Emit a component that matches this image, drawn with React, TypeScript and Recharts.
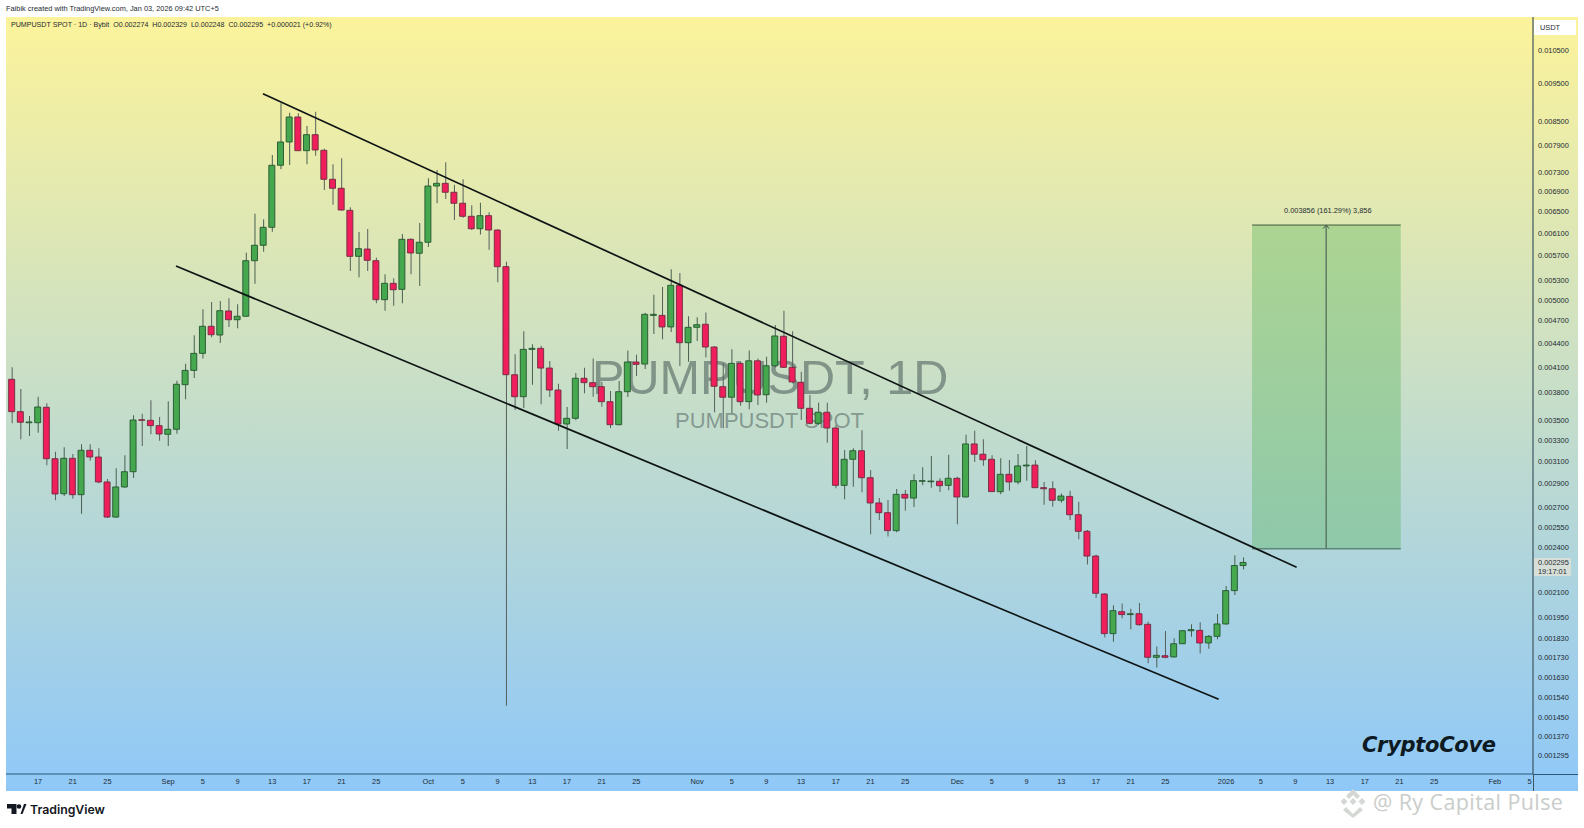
import { Bar, Cell, ComposedChart, ReferenceArea, ReferenceLine, XAxis, YAxis } from "recharts"

// candle values in millionths of USDT, one per day from Aug 14 2025 to Jan 03 2026
const opens = [
    3952, 3590, 3474, 3474, 3637, 3122, 2814, 3126, 2806, 3201,
    3138, 2914, 2626, 2871, 3004, 3505, 3499, 3444, 3357, 3407,
    3889, 4058, 4268, 4625, 4507, 4840, 4716, 4765, 5619, 5882,
    6204, 7458, 7992, 8607, 7788, 8167, 7797, 7154, 6966, 6525,
    5692, 5817, 5619, 5005, 5254, 5161, 5987, 5744, 5935, 7013,
    7069, 6884, 6663, 6410, 6178, 6422, 6154, 5520, 4006, 3753,
    4319, 4332, 4086, 3828, 3461, 3520, 3964, 3913, 3866, 3698,
    3454, 3809, 4160, 4135, 4777, 4777, 4616, 5223, 4405, 4611,
    4653, 4349, 3866, 3747, 4143, 3698, 4175, 3775, 4114, 4490,
    4095, 3917, 3626, 3468, 3584, 3420, 2885, 3117, 3197, 2951,
    2738, 2660, 2522, 2809, 2778, 2920, 2916, 2920, 2885, 2946,
    2787, 3262, 3164, 3117, 2831, 2981, 2914, 3056, 3064, 2865,
    2856, 2760, 2792, 2644, 2517, 2339, 2090, 1858, 1983, 1966,
    1971, 1910, 1732, 1740, 1734, 1803, 1874, 1876, 1807, 1843,
    1912, 2111, 2274,
]
const closes = [
    3590, 3479, 3482, 3640, 3122, 2812, 3126, 2806, 3201, 3138,
    2914, 2626, 2871, 3004, 3502, 3499, 3444, 3360, 3407, 3894,
    4058, 4268, 4625, 4511, 4844, 4716, 4765, 5619, 5882, 6204,
    7458, 7992, 8607, 7788, 8167, 7804, 7154, 6966, 6531, 5692,
    5823, 5625, 5005, 5254, 5155, 5987, 5749, 5935, 7013, 7069,
    6884, 6663, 6410, 6178, 6422, 6154, 5520, 4006, 3753, 4319,
    4332, 4086, 3828, 3461, 3520, 3964, 3913, 3866, 3698, 3454,
    3809, 4160, 4131, 4792, 4792, 4616, 5223, 4405, 4611, 4647,
    4349, 3871, 3747, 4143, 3698, 4175, 3772, 4114, 4494, 4095,
    3921, 3626, 3468, 3584, 3420, 2885, 3117, 3197, 2951, 2738,
    2660, 2522, 2809, 2778, 2925, 2925, 2922, 2882, 2946, 2787,
    3262, 3164, 3113, 2832, 2981, 2914, 3056, 3064, 2865, 2856,
    2760, 2795, 2644, 2517, 2339, 2094, 1858, 1989, 1966, 1971,
    1908, 1732, 1742, 1732, 1803, 1874, 1880, 1807, 1843, 1912,
    2111, 2274, 2295,
]
const highs = [
    4095, 3840, 3544, 3753, 3680, 3188, 3230, 3166, 3259, 3259,
    3220, 2940, 3034, 3154, 3552, 3569, 3713, 3534, 3702, 3936,
    4139, 4503, 4864, 4971, 4985, 5025, 4937, 5754, 6460, 6353,
    7690, 8965, 8718, 8702, 8380, 8743, 7835, 7481, 7615, 6584,
    6118, 6172, 5669, 5396, 5333, 6082, 6000, 6284, 7175, 7354,
    7524, 7041, 7154, 6624, 6675, 6487, 6170, 5602, 4256, 4556,
    4384, 4366, 4172, 3901, 3640, 4027, 4090, 4205, 3924, 3817,
    3932, 4306, 4251, 4815, 5078, 5197, 5477, 5417, 4765, 4750,
    4820, 4358, 4143, 4319, 4163, 4306, 4205, 4225, 4643, 4844,
    4556, 4041, 3772, 3687, 3687, 3451, 3204, 3220, 3397, 3019,
    2778, 2762, 2853, 2845, 2981, 3043, 3147, 2946, 3160, 2960,
    3353, 3393, 3307, 3154, 3126, 3110, 3166, 3242, 3107, 2914,
    2920, 2817, 2839, 2748, 2527, 2348, 2094, 2021, 2031, 2001,
    2035, 1925, 1789, 1872, 1832, 1878, 1910, 1922, 1850, 1970,
    2140, 2344, 2329,
]
const lows = [
    3468, 3307, 3340, 3373, 3062, 2760, 2795, 2773, 2652, 3104,
    2903, 2618, 2621, 2865, 2949, 3242, 3357, 3293, 3242, 3363,
    3724, 3968, 4205, 4476, 4401, 4615, 4597, 4759, 5248, 5771,
    6123, 7370, 7465, 7781, 7481, 7674, 6930, 6635, 6518, 5450,
    5349, 5450, 4951, 4844, 4916, 4951, 5396, 5212, 5852, 6663,
    6748, 6340, 6384, 6154, 6072, 5805, 5270, 1500, 3608, 3630,
    3889, 3670, 3750, 3393, 3214, 3499, 3791, 3753, 3644, 3420,
    3448, 3750, 3991, 4074, 4520, 4449, 4547, 4110, 4163, 4427,
    4217, 3584, 3417, 3573, 3654, 3615, 3662, 3687, 4095, 4086,
    3905, 3502, 3458, 3451, 3274, 2860, 2768, 2873, 2826, 2495,
    2603, 2478, 2510, 2675, 2705, 2885, 2865, 2828, 2843, 2570,
    2784, 3092, 3058, 2831, 2809, 2839, 2894, 2925, 2862, 2724,
    2708, 2740, 2603, 2458, 2281, 2065, 1837, 1814, 1945, 1882,
    1902, 1701, 1680, 1727, 1730, 1802, 1841, 1752, 1777, 1827,
    1908, 2084, 2248,
]

// day number 1 is Aug 14
const tickDays = [4, 8, 12, 19, 23, 27, 31, 35, 39, 43, 49, 53, 57, 61, 65, 69, 73, 80, 84, 88, 92, 96, 100, 104, 110, 114, 118, 122, 126, 130, 134, 141, 145, 149, 153, 157, 161, 165, 172, 176]
const tickLabels = ["17", "21", "25", "Sep", "5", "9", "13", "17", "21", "25", "Oct", "5", "9", "13", "17", "21", "25", "Nov", "5", "9", "13", "17", "21", "25", "Dec", "5", "9", "13", "17", "21", "25", "2026", "5", "9", "13", "17", "21", "25", "Feb", "5"]
const priceTicks = [0.0105, 0.0095, 0.0085, 0.0079, 0.0073, 0.0069, 0.0065, 0.0061, 0.0057, 0.0053, 0.005, 0.0047, 0.0044, 0.0041, 0.0038, 0.0035, 0.0033, 0.0031, 0.0029, 0.0027, 0.00255, 0.0024, 0.0021, 0.00195, 0.00183, 0.00173, 0.00163, 0.00154, 0.00145, 0.00137, 0.001295]

const upperLine = [{ x: 29.94, y: 0.009223 }, { x: 149.14, y: 0.002262 }]
const lowerLine = [{ x: 19.91, y: 0.005531 }, { x: 140.15, y: 0.001529 }]
const targetDays = [144, 161.15]
const targetPrices = [0.00239, 0.006246]
const arrowDay = 152.55

const candles = opens.map((open, i) => ({
    day: i + 1,
    wick: [lows[i] / 1e6, highs[i] / 1e6],
    body: [Math.min(open, closes[i]) / 1e6, Math.max(open, closes[i]) / 1e6],
    up: closes[i] >= open,
}))

const xDomain = [0.308, 176.4]
const yDomain = [0.001225, 0.01158]
const axisText = { fontSize: 7.4, fill: "#1d2b33", fontFamily: "Liberation Sans" }

function Label({ x, y, size = 7.4, color = "#1d2b33", style, children }: any) {
    return (
        <div style={{ position: "absolute", left: x, top: y, fontSize: size, lineHeight: 1, color, whiteSpace: "pre", fontFamily: "Liberation Sans", ...style }}>
            {children}
        </div>
    )
}

export default function App() {
    return (
        <div style={{ position: "absolute", left: 0, top: 0, width: 1584, height: 828, background: "#fff", overflow: "hidden" }}>
            <div style={{ position: "absolute", left: 6, top: 17, width: 1572, height: 774, background: "linear-gradient(#fcf39b, #8fc8f8)" }} />

            <Label x={592} y={353} size={48.6} color="rgba(70,85,85,0.55)">PUMPUSDT, 1D</Label>
            <Label x={675} y={410} size={22} color="rgba(70,85,85,0.5)">PUMPUSDT SPOT</Label>

            <div style={{ position: "absolute", left: 0, top: 0 }}>
                <ComposedChart width={1584} height={828} data={candles} margin={{ top: 17, left: 6, right: 6, bottom: 37 }}>
                    <XAxis
                        dataKey="day"
                        type="number"
                        scale="linear"
                        domain={xDomain}
                        ticks={tickDays}
                        interval={0}
                        height={17}
                        tickLine={false}
                        axisLine={{ stroke: "#2b5878", strokeWidth: 1.2 }}
                        tick={axisText}
                        tickMargin={-1}
                        tickFormatter={(day) => tickLabels[tickDays.indexOf(day)]}
                    />
                    <XAxis xAxisId="wicks" dataKey="day" type="number" scale="linear" domain={xDomain} hide />
                    <YAxis
                        orientation="right"
                        scale="log"
                        domain={yDomain}
                        ticks={priceTicks}
                        interval={0}
                        width={45}
                        tickLine={false}
                        axisLine={{ stroke: "#3f5560", strokeWidth: 1.2 }}
                        tick={axisText}
                        tickMargin={-1}
                        tickFormatter={(value) => value.toFixed(6)}
                    />
                    <ReferenceArea
                        x1={targetDays[0]}
                        x2={targetDays[1]}
                        y1={targetPrices[0]}
                        y2={targetPrices[1]}
                        fill="#4caf50"
                        fillOpacity={0.34}
                        stroke="none"
                        ifOverflow="visible"
                    />
                    <ReferenceLine segment={[{ x: targetDays[0], y: targetPrices[1] }, { x: targetDays[1], y: targetPrices[1] }]} stroke="#40583f" strokeWidth={1} />
                    <ReferenceLine segment={[{ x: targetDays[0], y: targetPrices[0] }, { x: targetDays[1], y: targetPrices[0] }]} stroke="#5f8576" strokeWidth={1.4} />
                    <ReferenceLine segment={[{ x: arrowDay, y: targetPrices[0] }, { x: arrowDay, y: targetPrices[1] }]} stroke="#566e5c" strokeWidth={1.3} />
                    <ReferenceLine segment={[{ x: arrowDay, y: targetPrices[1] }, { x: arrowDay - 0.35, y: 0.00618 }]} stroke="#3f5a45" strokeWidth={1} />
                    <ReferenceLine segment={[{ x: arrowDay, y: targetPrices[1] }, { x: arrowDay + 0.35, y: 0.00618 }]} stroke="#3f5a45" strokeWidth={1} />
                    <Bar xAxisId="wicks" dataKey="wick" barSize={1} isAnimationActive={false}>
                        {candles.map((c) => (
                            <Cell key={c.day} fill={c.up ? "#48604f" : "#56605c"} />
                        ))}
                    </Bar>
                    <Bar dataKey="body" barSize={6} isAnimationActive={false} strokeWidth={0.9}>
                        {candles.map((c) => (
                            <Cell key={c.day} fill={c.up ? "#45a84e" : "#f01f5c"} stroke={c.up ? "#24552f" : "#6d2a40"} />
                        ))}
                    </Bar>
                    <ReferenceLine segment={upperLine} stroke="#0e1414" strokeWidth={1.7} ifOverflow="visible" />
                    <ReferenceLine segment={lowerLine} stroke="#0e1414" strokeWidth={1.7} ifOverflow="visible" />
                </ComposedChart>
            </div>

            <div style={{ position: "absolute", left: 1533, top: 774, width: 1.2, height: 17, background: "#3f5560" }} />
            <div style={{ position: "absolute", left: 1534, top: 774, width: 44, height: 1.2, background: "#2b5878" }} />

            <Label x={6} y={5} size={7.4}>Faibik created with TradingView.com, Jan 03, 2026 09:42 UTC+5</Label>
            <Label x={11} y={22} size={7.1}>{"PUMPUSDT SPOT · 1D · Bybit  O0.002274  H0.002329  L0.002248  C0.002295  +0.000021 (+0.92%)"}</Label>

            <div style={{ position: "absolute", left: 1534, top: 20, width: 42, height: 15, background: "#fff" }} />
            <Label x={1540} y={24} size={7.4}>USDT</Label>

            <div style={{ position: "absolute", left: 1534, top: 558, width: 37, height: 18, background: "#d8dfd8" }} />
            <Label x={1538} y={559} size={7.4}>0.002295</Label>
            <Label x={1538} y={568} size={7.4}>19:17:01</Label>

            <Label x={1284} y={207} size={7.4}>0.003856 (161.29%) 3,856</Label>

            <Label x={1362} y={735} size={21} color="#0d1a22" style={{ fontFamily: "DejaVu Sans", fontWeight: 700, fontStyle: "italic", letterSpacing: -0.3 }}>CryptoCove</Label>

            <svg width={22} height={14} style={{ position: "absolute", left: 6, top: 803 }}>
                <path d="M1 1H10.5V11H5.5V5.5H1Z" fill="#131722" />
                <circle cx={13} cy={3.5} r={2.3} fill="#131722" />
                <path d="M14.5 11L18 1H20.500L16.500 11Z" fill="#131722" />
            </svg>
            <Label x={30} y={804} size={12.3} color="#131722" style={{ fontFamily: "Inter", fontWeight: 600 }}>TradingView</Label>

            <svg width={32} height={32} style={{ position: "absolute", left: 1338, top: 788 }}>
                <path d="M15 1L22 8L19 11L15 7L11 11L8 8Z M6 10L9.500 13.500L6 17L2.500 13.500Z M24 10L27.500 13.500L24 17L20.500 13.500Z M15 10L18.500 13.500L15 17L11.500 13.500Z M8 19L15 26L22 19L25 22L15 30L5 22Z" fill="#d3d8d4" />
            </svg>
            <Label x={1373} y={791} size={21.5} color="#c9cdca" style={{ fontFamily: "Open Sans", letterSpacing: 0.4 }}>@ Ry Capital Pulse</Label>
        </div>
    )
}
